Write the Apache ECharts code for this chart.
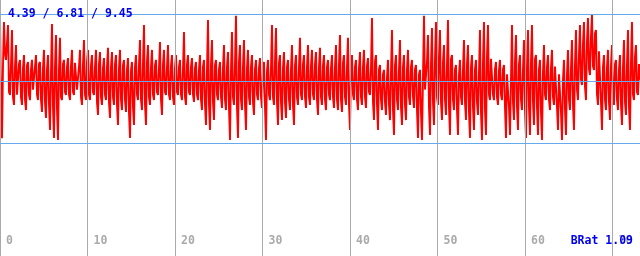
<!DOCTYPE html>
<html>
<head>
<meta charset="utf-8">
<script src="https://cdn.jsdelivr.net/npm/echarts@6/dist/echarts.min.js"></script>
<style>
html,body{margin:0;padding:0;background:#fff;}
#c{width:640px;height:256px;}
</style>
</head>
<body>
<div id="c"></div>
<script>
// Upper spike reading of each group of four readings
const highs = [
 9.22,9.14,9.02,8.83,8.24,7.66,7.85,7.58,7.66,7.85,7.58,8.05,7.85,9.06,8.63,8.52,7.66,7.73,8.05,7.58,
 8.05,8.44,8.05,7.85,8.05,7.97,7.73,8.13,7.97,7.85,8.05,7.66,7.73,7.58,7.85,8.44,9.02,8.24,8.05,7.66,
 8.36,8.05,8.24,7.85,7.85,7.66,8.75,7.85,7.73,7.58,7.85,7.66,9.22,8.44,7.66,7.58,8.24,7.97,8.75,9.38,
 8.24,8.44,8.05,7.85,7.66,7.73,7.58,7.66,9.02,8.91,7.85,7.97,7.66,8.24,7.85,8.52,7.85,8.24,8.05,7.97,
 8.13,7.85,7.66,7.85,8.24,8.63,7.85,8.52,7.85,7.66,7.97,8.05,7.73,9.30,7.85,7.46,7.27,7.66,8.83,7.85,
 8.44,7.85,8.05,7.66,7.46,7.27,9.38,8.63,8.91,9.14,8.83,8.24,9.22,7.85,7.46,7.66,8.44,8.24,7.85,7.66,
 8.83,9.14,9.02,7.73,7.58,7.66,7.46,7.07,9.02,8.63,7.85,8.44,8.83,9.02,7.85,7.66,8.24,7.85,8.05,7.46,
 7.07,7.66,8.05,8.44,8.83,9.02,9.14,9.30,9.41,8.83,8.05,7.85,8.05,8.24,7.66,7.85,8.44,8.83,9.14,8.24
];
// Lower spike reading of each group
const lows = [
 4.60,7.66,6.29,5.90,6.29,5.90,5.70,6.09,6.48,6.09,5.63,5.39,4.92,4.61,4.53,6.09,6.29,6.09,6.29,6.48,
 5.90,6.09,6.09,6.29,5.51,5.90,6.09,5.39,5.90,5.12,5.70,5.63,4.61,5.12,6.09,5.70,5.12,5.90,6.09,6.29,
 5.51,6.29,6.09,5.90,6.29,6.09,5.90,6.29,6.02,6.09,5.70,5.12,4.92,5.31,6.09,5.78,5.70,4.53,5.90,4.61,
 5.70,4.92,5.90,5.51,6.09,5.78,4.53,6.09,5.90,5.12,5.31,5.39,5.70,5.12,5.90,6.09,5.78,5.90,6.09,5.51,
 5.90,5.70,6.09,5.78,5.70,5.63,5.90,4.92,6.09,5.70,5.90,5.78,6.29,5.31,4.92,5.70,5.51,5.31,4.73,5.70,
 5.12,5.31,5.90,5.78,4.61,4.53,6.48,4.73,5.12,5.90,5.31,5.51,4.73,5.70,4.73,5.90,5.31,4.61,4.92,5.51,
 4.53,4.73,6.09,6.09,5.90,6.09,4.61,4.73,5.31,4.92,5.70,4.61,4.73,5.12,4.73,4.53,6.09,5.70,5.90,4.92,
 4.53,4.73,5.70,4.92,6.09,6.68,6.09,7.07,7.27,5.90,4.92,5.70,5.31,5.90,5.70,5.12,5.51,4.92,6.09,6.29
];
// Upper edge of the dense core band in each group
const coreHighs = [
 7.45,8.30,7.50,7.40,7.50,7.35,7.45,7.30,7.40,7.50,7.35,7.30,7.20,7.40,7.30,7.50,7.40,7.45,7.55,7.40,7.50,7.60,7.45,7.40,7.50,7.35,7.40,
 7.40,7.50,7.35,7.45,7.30,7.25,7.40,7.50,7.55,7.60,7.40,7.45,7.35,7.50,7.40,7.45,7.35,7.40,7.30,7.50,7.40,7.35,7.30,7.40,7.30,7.50,7.45,
 7.30,7.35,7.40,7.30,7.50,7.60,7.40,7.35,7.40,7.30,7.35,7.30,7.25,7.35,7.60,7.55,7.35,7.40,7.30,7.45,7.40,7.50,7.40,7.45,7.50,7.40,
 7.45,7.40,7.35,7.40,7.50,7.55,7.40,7.45,7.40,7.35,7.40,7.45,7.35,7.60,7.30,7.10,7.00,7.20,7.45,7.30,7.40,7.30,7.40,7.30,7.10,7.00,7.60,
 7.50,7.70,7.80,7.60,7.50,7.70,7.30,7.10,7.30,7.50,7.40,7.30,7.20,7.60,7.80,7.70,7.30,7.25,7.30,7.10,6.90,7.60,7.50,7.30,7.40,7.60,7.70,
 7.30,7.20,7.40,7.35,7.40,7.10,6.90,7.10,7.35,7.50,7.90,8.30,8.40,8.60,8.70,8.00,7.40,7.40,7.45,7.50,7.30,7.40,7.50,7.60,7.80,7.50
];
// Lower edge of the dense core band in each group
const coreLows = [
 6.30,7.90,6.40,6.20,6.30,6.20,6.10,6.30,6.50,6.30,6.10,6.00,5.90,5.80,5.70,6.20,6.40,6.30,6.40,6.50,6.20,6.30,6.30,6.40,6.00,6.20,6.30,
 6.00,6.20,5.90,6.10,6.10,5.60,5.80,6.30,6.10,5.90,6.20,6.30,6.40,6.10,6.40,6.30,6.20,6.40,6.30,6.20,6.40,6.30,6.30,6.10,5.90,5.90,6.00,
 6.30,6.20,6.10,5.80,6.20,5.80,6.10,5.90,6.20,6.00,6.30,6.20,5.80,6.30,6.20,6.00,6.00,6.00,6.10,5.90,6.20,6.30,6.20,6.20,6.30,6.10,
 6.20,6.10,6.30,6.20,6.10,6.10,6.20,5.90,6.30,6.10,6.20,6.20,6.40,6.00,5.90,6.10,6.00,5.90,5.70,6.10,5.80,5.90,6.20,6.20,5.70,5.60,6.50,
 5.80,6.00,6.20,6.00,6.10,5.80,6.10,5.70,6.20,6.00,5.60,5.80,6.00,5.60,5.70,6.30,6.30,6.20,6.30,5.80,5.80,6.00,5.80,6.10,5.70,5.80,6.00,
 5.80,5.60,6.30,6.10,6.20,5.80,5.60,5.70,6.10,5.90,6.50,6.90,6.60,7.30,7.40,6.30,6.00,6.10,6.00,6.20,6.10,5.90,6.00,5.80,6.30,6.40
];
const lastValue = 6.88;
const sampleStep = 0.11428;         // x distance between consecutive readings
const xTicks = [0, 10, 20, 30, 40, 50, 60, 70];
const stats = [4.39, 6.81, 9.45];   // min / mean / max
const footer = 'BRat 1.09';

const values = [];
for (let i = 0; i < highs.length; i++) {
  values.push(highs[i], coreLows[i], lows[i], coreHighs[i]);
}
values.push(lastValue);
const seriesData = values.map((v, i) => [i * sampleStep, v]);

const chart = echarts.init(document.getElementById('c'), null, {renderer: 'canvas'});
const mono = '"DejaVu Sans Mono", "Liberation Mono", monospace';
chart.setOption({
  animation: false,
  backgroundColor: '#fff',
  grid: {left: 0, right: 0, top: 0, bottom: 0},
  xAxis: {
    type: 'value', min: 0, max: 73.14, interval: 10, z: 3,
    axisLine: {show: false}, axisTick: {show: false},
    splitLine: {show: true, lineStyle: {color: '#aaaaaa', width: 1}},
    axisLabel: {
      inside: true, margin: 9, align: 'left', padding: [0, 0, 0, 6],
      color: '#aaaaaa', fontFamily: mono, fontWeight: 'bold', fontSize: 11.5,
      showMinLabel: true, showMaxLabel: false,
      formatter: v => (xTicks.indexOf(v) >= 0 ? String(v) : '')
    }
  },
  yAxis: {
    type: 'value', min: 0, max: 10,
    show: true, axisLine: {show: false}, axisTick: {show: false}, axisLabel: {show: false},
    splitLine: {show: false}
  },
  series: [
    {
      type: 'line', data: seriesData, showSymbol: false, symbol: 'none', z: 2,
      lineStyle: {color: '#ff0000', width: 1.9}, silent: true
    },
    {
      type: 'line', data: [], z: 5, silent: true,
      markLine: {
        silent: true, symbol: 'none', label: {show: false}, animation: false,
        lineStyle: {color: '#66aaee', width: 1, type: 'solid'},
        data: stats.map(v => ({yAxis: v}))
      }
    }
  ],
  graphic: [
    {type: 'text', left: 8, top: 8, z: 10,
     style: {text: stats.map(v => v.toFixed(2)).join(' / '), fill: '#0000ee',
             font: 'bold 11.5px ' + mono}},
    {type: 'text', right: 7, top: 235, z: 10,
     style: {text: footer, fill: '#0000ee', font: 'bold 11.5px ' + mono}}
  ]
});
</script>
</body>
</html>
